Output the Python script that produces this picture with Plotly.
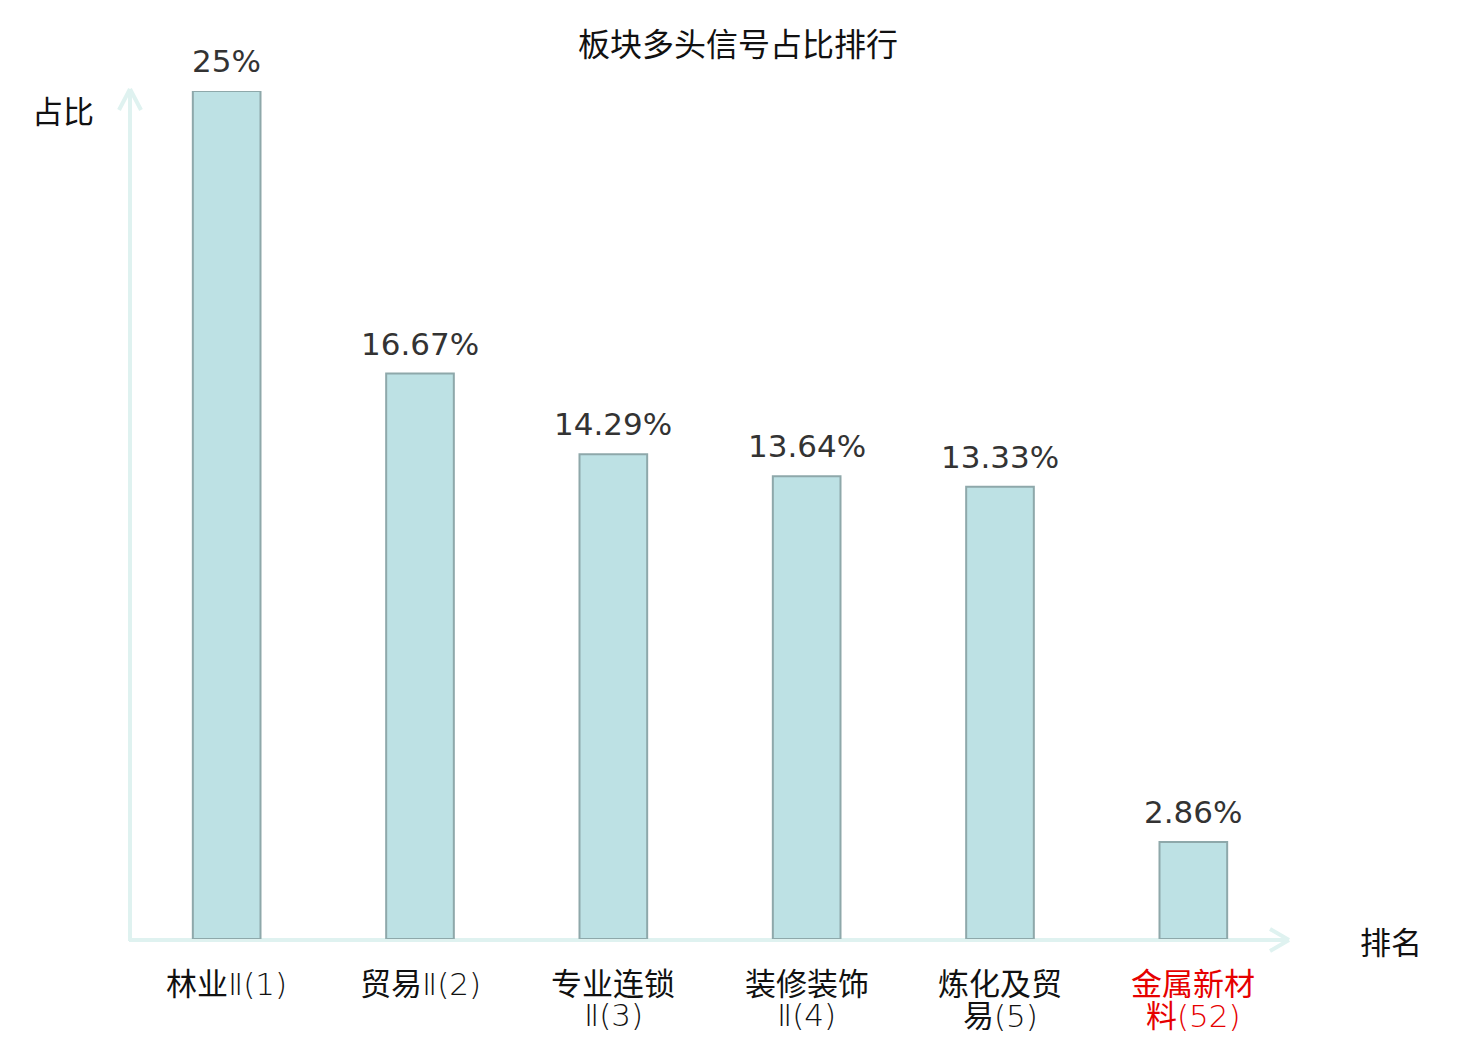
import plotly.graph_objects as go

# 板块数据
sectors = ["林业Ⅱ(1)", "贸易Ⅱ(2)", "专业连锁<br>Ⅱ(3)", "装修装饰<br>Ⅱ(4)", "炼化及贸<br>易(5)", "金属新材<br>料(52)"]
ratio = [25, 16.67, 14.29, 13.64, 13.33, 2.86]
ratio_text = ["25%", "16.67%", "14.29%", "13.64%", "13.33%", "2.86%"]
label_colors = ["#111111", "#111111", "#111111", "#111111", "#111111", "#e60000"]

W, H = 1480, 1040
# 页面 body 自带 8px 边距，这里整体往左上挪一点
OFF = 8
L, T = 130 - OFF, 91 - OFF
PW, PH = 1160, 848
R, B = W - L - PW, H - T - PH
cjk = "Noto Sans CJK SC"

x_idx = list(range(len(sectors)))

fig = go.Figure()
fig.add_trace(go.Bar(
    x=x_idx,
    y=ratio,
    width=0.35,
    marker=dict(color="#bde1e4", line=dict(color="#8ea8aa", width=2)),
    hoverinfo="skip",
))


def px2paper(px, py):
    # 参考图上的像素坐标 -> paper 坐标
    return (px - OFF - L) / PW, (H - B - (py - OFF)) / PH


def seg(p0, p1):
    x0, y0 = px2paper(*p0)
    x1, y1 = px2paper(*p1)
    return dict(type="line", xref="paper", yref="paper", x0=x0, y0=y0, x1=x1, y1=y1,
                line=dict(color="#dff2f0", width=4), layer="below")


def thin_latin(s):
    # 非中文部分用细体
    out, buf = "", ""
    for ch in s:
        if ord(ch) < 0x2E80:
            buf += ch
        else:
            if buf:
                out += "<span style=\"font-family:'DejaVu Sans';font-weight:200\">" + buf + "</span>"
                buf = ""
            out += ch
    if buf:
        out += "<span style=\"font-family:'DejaVu Sans';font-weight:200\">" + buf + "</span>"
    return out


shapes = [
    seg((130, 941), (130, 89)),
    seg((119, 110), (130, 89)),
    seg((130, 89), (141, 110)),
    seg((129, 940), (1289, 940)),
    seg((1270, 929), (1289, 940)),
    seg((1289, 940), (1270, 951)),
]

annotations = []
# 数值标签
for i, (v, t) in enumerate(zip(ratio, ratio_text)):
    annotations.append(dict(x=i, y=v, xref="x", yref="y", text=t, showarrow=False,
                            xanchor="center", yanchor="bottom", yshift=10,
                            font=dict(family="DejaVu Sans", size=31, color="#333333")))

# 类目标签（手动换行）
for i, (name, c) in enumerate(zip(sectors, label_colors)):
    for j, part in enumerate(name.split("<br>")):
        shift = -42 - 32 * j
        if ord(part[0]) < 0x2E80:
            shift -= 2
        annotations.append(dict(x=i, y=0, xref="x", yref="paper", text=thin_latin(part), showarrow=False,
                                xanchor="center", yanchor="middle", yshift=shift,
                                font=dict(family=cjk, size=31, color=c)))


def free_text(t, px, py, size):
    x, y = px2paper(px, py)
    return dict(text=t, x=x, y=y, xref="paper", yref="paper", showarrow=False,
                xanchor="center", yanchor="middle",
                font=dict(family=cjk, size=size, color="#111111"))


annotations += [
    free_text("板块多头信号占比排行", 738, 42, 32),
    free_text("占比", 63, 110, 31),
    free_text("排名", 1391, 941, 31),
]

fig.update_layout(
    width=W, height=H,
    margin=dict(l=L, r=R, t=T, b=B),
    paper_bgcolor="white", plot_bgcolor="white",
    showlegend=False,
    xaxis=dict(range=[-0.5, len(sectors) - 0.5], showticklabels=False, showgrid=False,
               zeroline=False, showline=False, ticks=""),
    yaxis=dict(range=[0, 25], showticklabels=False, showgrid=False,
               zeroline=False, showline=False, ticks=""),
    shapes=shapes,
    annotations=annotations,
)

fig.write_html("out.html")
